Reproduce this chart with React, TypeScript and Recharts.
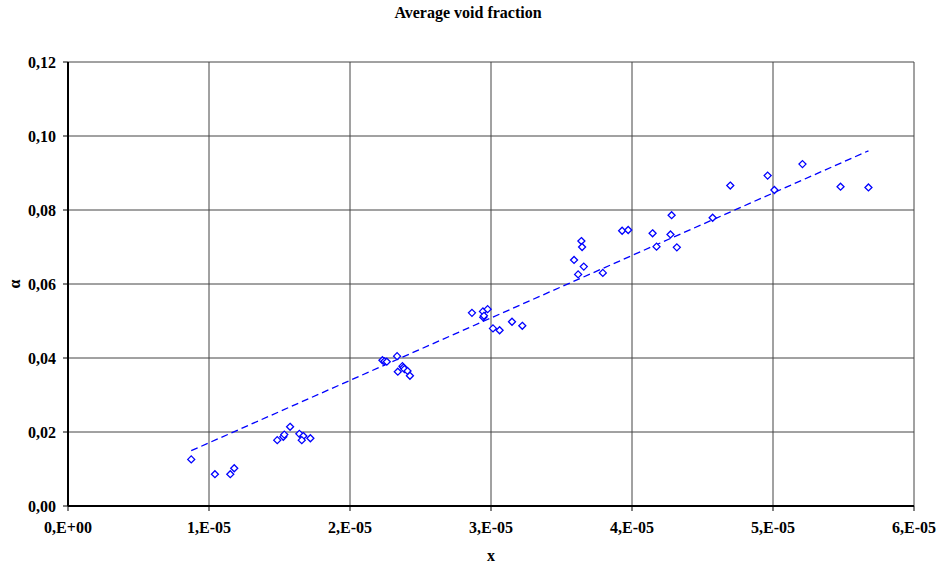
import React from "react";
import {
  ScatterChart,
  Scatter,
  XAxis,
  YAxis,
  CartesianGrid,
} from "recharts";

// measured x (in 1e-5 units) and void fraction values
const xValues = [
  0.874, 1.042, 1.151, 1.179, 1.484, 1.527, 1.534, 1.575, 1.641, 1.669, 1.658, 1.719,
  2.23, 2.244, 2.261, 2.334, 2.339, 2.372, 2.379, 2.386, 2.408, 2.425,
  2.865, 2.943, 2.976, 2.945, 2.95, 3.014, 3.061, 3.149, 3.222,
  3.589, 3.618, 3.641, 3.646, 3.658, 3.793, 3.93, 3.973, 4.146, 4.174, 4.273, 4.281, 4.318,
  4.572, 4.697, 4.962, 5.01, 5.209, 5.479, 5.677,
];
const alphaValues = [
  0.0126, 0.0086, 0.0086, 0.0102, 0.0178, 0.0187, 0.0193, 0.0214, 0.0195, 0.0189, 0.0178, 0.0183,
  0.0394, 0.0391, 0.039, 0.0405, 0.0363, 0.0378, 0.0374, 0.037, 0.0365, 0.0352,
  0.0522, 0.0526, 0.0532, 0.051, 0.0514, 0.048, 0.0475, 0.0498, 0.0487,
  0.0665, 0.0626, 0.0716, 0.07, 0.0647, 0.063, 0.0744, 0.0746, 0.0737, 0.0701, 0.0734, 0.0786, 0.0699,
  0.0779, 0.0866, 0.0893, 0.0854, 0.0924, 0.0863, 0.0861,
];

// linear trend line end points
const trendX = [0.874, 5.677];
const trendY = [0.01495, 0.096];

const xTicks = [0, 1e-5, 2e-5, 3e-5, 4e-5, 5e-5, 6e-5];
const yTicks = [0, 0.02, 0.04, 0.06, 0.08, 0.1, 0.12];

const points = xValues.map((x, i) => ({ x: x * 1e-5, y: alphaValues[i] }));
const trend = trendX.map((x, i) => ({ x: x * 1e-5, y: trendY[i] }));

const font = "'Liberation Serif', 'Times New Roman', serif";
const tickStyle = { fontFamily: font, fontSize: 16, fontWeight: 700, fill: "#000" };

const formatX = (v: number) =>
  v === 0 ? "0,E+00" : `${Math.round(v * 1e5)},E-05`;
const formatY = (v: number) => v.toFixed(2).replace(".", ",");

const Diamond = (props: any) => {
  const { cx, cy } = props;
  if (cx == null || cy == null) return <g />;
  const r = 3.5;
  return (
    <path
      d={`M${cx},${cy - r}L${cx + r},${cy}L${cx},${cy + r}L${cx - r},${cy}Z`}
      fill="#fff"
      stroke="#0000ff"
      strokeWidth={1.3}
    />
  );
};

export default function App() {
  return (
    <div style={{ position: "absolute", left: 0, top: 0, width: 940, height: 567, background: "#fff" }}>
      <div
        style={{
          position: "absolute",
          left: 0,
          top: 5,
          width: 936,
          textAlign: "center",
          fontFamily: font,
          fontWeight: 700,
          fontSize: 16,
          lineHeight: "16px",
        }}
      >
        Average void fraction
      </div>
      <ScatterChart
        width={940}
        height={567}
        margin={{ top: 62, right: 26, bottom: 0, left: 0 }}
      >
        <CartesianGrid stroke="#444" strokeWidth={1} />
        <XAxis
          type="number"
          dataKey="x"
          domain={[0, 6e-5]}
          ticks={xTicks}
          tickFormatter={formatX}
          tick={tickStyle}
          tickSize={5}
          tickMargin={11}
          height={61}
          axisLine={{ stroke: "#000", strokeWidth: 2 }}
          tickLine={{ stroke: "#000" }}
          label={{
            value: "x",
            position: "insideBottom",
            offset: 6,
            style: { fontFamily: font, fontSize: 16, fontWeight: 700, fill: "#000" },
          }}
        />
        <YAxis
          type="number"
          dataKey="y"
          domain={[0, 0.12]}
          ticks={yTicks}
          tickFormatter={formatY}
          tick={tickStyle}
          tickSize={5}
          tickMargin={7}
          width={68}
          axisLine={{ stroke: "#000", strokeWidth: 2 }}
          tickLine={{ stroke: "#000" }}
          label={{
            value: "α",
            angle: -90,
            position: "insideLeft",
            offset: 14,
            style: { fontFamily: font, fontSize: 16, fontWeight: 700, fill: "#000", textAnchor: "middle" },
          }}
        />
        <Scatter
          data={trend}
          line={{ stroke: "#0000ff", strokeWidth: 1.3, strokeDasharray: "7 4" }}
          shape={() => <g />}
          isAnimationActive={false}
        />
        <Scatter data={points} shape={<Diamond />} isAnimationActive={false} />
      </ScatterChart>
    </div>
  );
}
